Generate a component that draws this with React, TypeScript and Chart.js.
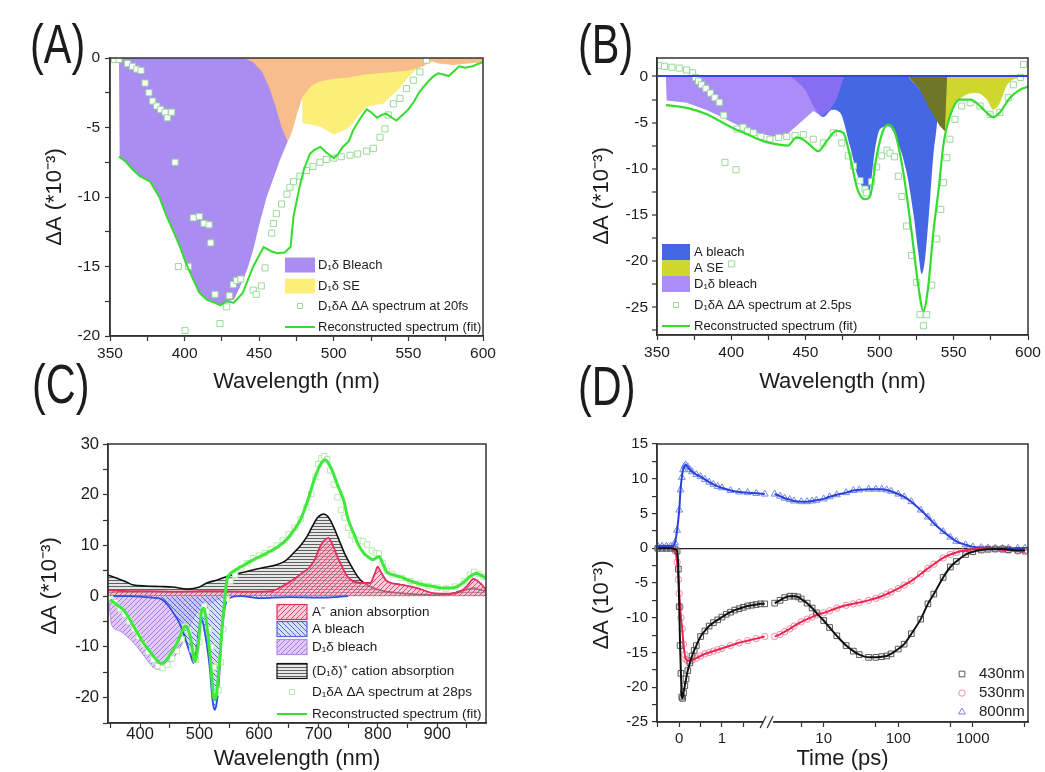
import React, { useEffect, useRef } from 'react';
import { Chart, registerables, LinearScale } from 'chart.js';

Chart.register(...registerables);

const FONT = '"Liberation Sans", Arial, Helvetica, sans-serif';
Chart.defaults.font.family = FONT;

// ---------------- Panel A data ----------------
const A_X_TICKS = [350, 375, 400, 425, 450, 475, 500, 525, 550, 575, 600];
const A_Y_TICKS = [-20, -17.5, -15, -12.5, -10, -7.5, -5, -2.5, 0];
const A_FIT_X = [356,360,365,370,377,383,388,393,397,401,406,410,415,420,424,428,433,439,446,453,458,462,467,471,473,477,480,484,487,491,495,500,503,506,510,513,518,522,525,529,532,535,539,542,546,550,554,557,560,564,567,570,574,577,580,584,588,593,596,600];
const A_FIT_Y = [-7.1,-7.4,-8.0,-8.5,-8.9,-10.0,-11.4,-12.6,-13.6,-14.8,-16.0,-16.9,-17.4,-17.6,-17.8,-17.5,-17.6,-16.9,-15.0,-13.6,-13.9,-14.05,-14.0,-13.6,-11.4,-9.3,-8.0,-6.9,-6.6,-6.4,-6.8,-7.2,-6.9,-6.4,-6.0,-5.2,-4.3,-3.7,-3.9,-4.3,-4.1,-4.0,-4.3,-4.5,-4.1,-3.7,-3.1,-2.5,-2.1,-1.6,-1.3,-1.1,-1.2,-1.3,-1.0,-0.6,-0.7,-0.6,-0.45,-0.3];
const A_BLEACH_X = [356,356.5,360,365,370,377,383,388,393,397,401,406,410,415,420,424,428,433,437,442,446,450,455,460,464,468,471,474,476];
const A_BLEACH_Y = [0,-7.1,-7.4,-8.0,-8.5,-8.9,-10.0,-11.4,-12.6,-13.6,-14.8,-16.0,-16.9,-17.4,-17.6,-17.8,-17.5,-17.4,-16.5,-15.2,-13.8,-12.0,-10.0,-8.5,-7.3,-6.3,-5.5,-3.0,0];
const A_SE_X = [478.5,479,485,491,495,500,505,511,516,522,527,533,538,544,549,555,561,567,572];
const A_SE_Y = [0,-4.7,-4.8,-4.95,-5.2,-5.5,-5.3,-4.95,-4.2,-3.5,-3.4,-3.3,-2.8,-2.2,-1.5,-0.86,-0.5,-0.26,0];
const A_ORANGE_X = [440,446,452,457,461,465,469,472,476,479,485,490,500,510,520,530,540,550,560,565,570,580,590,600];
const A_ORANGE_Y = [0,-0.3,-1.0,-2.2,-3.5,-5.0,-6.0,-5.3,-3.8,-2.8,-2.0,-1.7,-1.5,-1.4,-1.2,-1.1,-1.0,-0.9,-0.6,-0.2,-0.4,-0.5,-0.4,-0.3];
const A_DATA_X = [353,356,361.8,365,367.9,370.8,373.5,376.1,378.6,381.3,384,386.9,388.4,391.3,393.6,395.8,400.3,402.5,405.8,409.9,413,416.4,417.5,420.4,423.7,428.2,430,432.6,434.9,437.6,446,448,451.4,453.9,458.4,459.5,461.5,465,468.6,470.6,473,477.3,481.7,486,490.7,495,500,505,510.9,516,522,526.5,531,534.3,536.5,539.9,544.4,548.8,553.3,557.7,562.2];
const A_DATA_Y = [-0.1,-0.1,-0.4,-0.6,-0.8,-0.9,-1.8,-2.5,-3.1,-3.45,-3.7,-3.9,-4.3,-3.9,-7.5,-15.0,-19.6,-15.0,-11.5,-11.4,-11.9,-12.0,-13.3,-17.0,-19.1,-17.9,-17.1,-16.3,-16.0,-15.9,-16.7,-17.0,-16.4,-15.1,-12.6,-11.9,-11.2,-10.5,-9.8,-9.3,-8.9,-8.5,-8.1,-7.8,-7.5,-7.3,-7.2,-7.1,-7.0,-6.9,-6.7,-6.5,-5.7,-5.1,-4.1,-3.3,-2.9,-2.2,-1.6,-1.0,-0.15];

// ---------------- Panel B data ----------------
const B_X_TICKS = [350, 375, 400, 425, 450, 475, 500, 525, 550, 575, 600];
const B_Y_TICKS = [-27.5, -25, -22.5, -20, -17.5, -15, -12.5, -10, -7.5, -5, -2.5, 0];
const B_FIT_X = [356,370,383.5,392,401.4,410,421.6,432.9,438,444.1,448,453,458.7,464.3,471,475.6,480,484.5,487,490.2,493.5,498,502.5,505.9,510.4,516,521.6,526.1,529.5,532.8,536.2,540,543,547.4,554.2,561,567.7,572,576.6,581,587.9,595,600];
const B_FIT_Y = [-3.1,-3.4,-4.1,-4.8,-5.6,-6.2,-7.0,-7.4,-7.5,-6.6,-6.8,-7.4,-8.1,-7.0,-5.9,-6.1,-8.6,-11.9,-12.9,-13.3,-13.0,-8.6,-5.8,-5.2,-6.1,-10.4,-16.9,-22.7,-25.4,-22.7,-16.9,-11.9,-7.4,-4.3,-2.5,-2.5,-3.2,-3.9,-4.4,-3.9,-2.3,-1.4,-1.1];
const B_ABLEACH_X = [440,450,456,462,468,473.3,480,484.5,489,491.3,493.5,496.9,500.3,505.9,511.5,518.2,522.7,526.1,528.3,530.6,534,536.2,538.5,540,540.7,543];
const B_ABLEACH_Y = [0,-1.5,-3.4,-4.4,-3.6,-3.9,-7.5,-10.4,-12.2,-12.8,-12.2,-7.9,-5.7,-5.4,-6.8,-10.4,-14.75,-19.1,-21.4,-19.8,-13.3,-8.6,-5.4,-2.5,-0.7,0];
const B_D1_X = [356,356.5,370,383,392.5,401,410.4,420,428.4,437.4,446.4,455.3,461,466.6,471,476];
const B_D1_Y = [0,-2.6,-2.85,-3.6,-4.3,-5.0,-5.7,-6.2,-6.5,-6.3,-5.0,-3.75,-4.3,-3.6,-2.5,0];
const B_SE_X = [519,530,540,544,547.4,551.9,558.7,565.4,572.2,576.6,581.1,585.6,592.4,597];
const B_SE_Y = [0,-2.0,-4.8,-5.9,-4.3,-2.85,-1.95,-1.8,-2.5,-3.6,-2.85,-1.0,-0.2,0];
const B_OLIVE_X = [519.4,527.2,534,540.7,544,545.5];
const B_OLIVE_Y = [0,-1.4,-3.6,-5.4,-5.9,0];
const B_DATA_X = [351,355,360,365,370,374,376,378,380,383,386,389,392,395,395.8,400.3,403.2,404,408,411,414.9,420,426.1,432,437.4,443,448.6,455.3,462,468.8,474.5,478.9,482.3,486.8,490.2,491.3,494.7,498,501.4,505,507,510,512.6,515,518.2,521.6,525,527.2,529.5,531.7,535.1,538.5,541.2,543,545.3,547.4,550.8,555.3,561,567.7,574.4,581,586.7,590.1,595,597];
const B_DATA_Y = [1.2,1.1,1.0,0.9,0.7,0.4,-0.1,-0.5,-0.9,-1.3,-1.8,-2.3,-2.8,-4.2,-9.3,-20.3,-10.1,-5.7,-5.5,-5.9,-6.1,-6.5,-6.8,-6.6,-6.5,-6.4,-6.3,-6.8,-7.2,-6.1,-7.2,-8.6,-9.7,-11.3,-12.2,-12.6,-11.4,-9.8,-8.6,-8.0,-8.3,-8.7,-10.8,-13.0,-16.2,-19.4,-22.3,-25.8,-27.0,-25.8,-22.6,-17.6,-14.4,-11.5,-8.8,-6.8,-4.65,-3.2,-2.85,-3.2,-4.1,-3.9,-2.3,-0.9,-0.1,1.3];

// ---------------- Panel C data ----------------
const C_X_TICKS = [350, 400, 450, 500, 550, 600, 650, 700, 750, 800, 850, 900, 950];
const C_Y_TICKS = [-25, -20, -15, -10, -5, 0, 5, 10, 15, 20, 25, 30];
const C_CATION_X = [346,360,375,389,410,434,455,479,500,512,530,546,570,591,610,630,645,658,670,681,690,698,704,709,715,720,728,737,745,754,762,770,780,793,810,838,860,880,894,910,925,939,950,961,971,982];
const C_CATION_Y = [4.2,3.6,2.9,2.2,2.0,1.9,1.8,1.4,1.8,2.6,3.2,3.9,4.6,5.2,5.7,6.2,7.0,8.5,10.0,11.8,13.8,15.4,16.0,16.2,15.8,15.0,13.0,10.4,8.2,6.2,4.6,3.3,2.4,1.6,1.0,0.6,0.4,0.3,0.2,0.3,0.5,1.0,1.3,1.6,1.3,1.0];
const C_ANION_X = [346,380,420,460,500,540,580,620,640,658,672,686,695,703,710,717,725,732,740,747,754,770,787,795,800,804,815,838,866,894,920,940,950,961,972,982];
const C_ANION_Y = [1.2,1.0,1.0,0.9,1.0,1.0,0.9,1.0,2.0,3.3,4.5,5.8,7.5,9.8,11.0,11.5,9.8,7.8,5.8,4.2,3.3,2.6,2.6,4.5,5.8,5.0,3.0,2.3,1.6,0.6,0.5,1.0,2.0,3.4,2.6,1.3];
const C_ABLEACH_X = [346,380,420,434,445,456,465,473,479,484,490,495,500,504,509,514,518,521,523.4,526,529,532,535,537.5,543,552,570,600,650,700,750];
const C_ABLEACH_Y = [0,0,-0.3,-0.5,-1.5,-3.3,-5.0,-7.3,-9.5,-11.2,-13.2,-9.9,-6.0,-4.6,-7.3,-11.0,-15.1,-19.5,-21.7,-22.4,-21.0,-17.8,-12.0,-7.3,-2.0,-0.3,0,-0.4,-0.2,-0.3,0];
const C_D1_X = [346,347,352,365,377.6,394.4,411.2,420,428,436,444.9,453,461.8,470,478.6,487,495.4,503,512,520,529,537,546];
const C_D1_Y = [0,-0.6,-5.6,-6.8,-7.9,-9.9,-12.5,-13.8,-14.4,-14.4,-13.8,-12.8,-11.2,-9.5,-7.3,-5.0,-3.3,-2.6,-2.0,-1.3,-0.7,-0.3,0];
const C_FIT_X = [349.5,360,372,380,388.8,397,405.6,414,422.4,428,433.7,439,444.9,450,456.1,462,467.3,471,475.8,480,484.2,488,492.6,495.5,498.2,501,503.8,506.5,509.4,513,517.8,520.5,523.4,526,529.5,533.5,536.5,539.2,542.5,546,551,557,570,590.8,613.3,630,647,658,669.4,678,686,693,700.2,706,711.4,716,722.7,732,742.3,750,759,767,776,785,792,798,802,808,815,826,837.7,855,871.4,882,893.8,907,921.9,935,950,955,961,966,972,980.8];
const C_FIT_Y = [-0.65,-1.6,-2.7,-4.0,-5.9,-7.5,-9.2,-10.5,-11.8,-12.6,-13.2,-13.2,-12.5,-11.6,-10.5,-9.3,-7.9,-6.8,-5.9,-6.4,-7.9,-10.5,-12.9,-11.5,-9.3,-5.5,-2.7,-2.4,-3.3,-6.5,-11.8,-16.0,-19.7,-20.4,-18.5,-13.2,-8.5,-4.6,-0.5,3.2,4.3,4.9,5.8,7.2,8.5,9.6,11.2,12.9,15.0,17.5,20.3,23.0,25.2,26.4,26.9,26.4,24.9,22.0,19.0,15.2,12.5,10.2,8.5,7.6,7.2,7.6,7.8,6.5,4.8,4.2,3.8,3.0,2.4,2.1,1.9,1.6,1.6,2.0,3.3,3.9,4.3,4.5,4.2,3.6];
const C_DATA_X = [350,358,366,374,382,390,398,406,414,422,430,438,446,454,462,470,476,482,488,494,500,504,508,512,516,520,524,528,532,536,540,546,552,560,570,580,590,600,610,620,630,640,650,660,670,680,688,695,700,705,710,715,720,726,732,738,744,750,756,762,768,775,782,790,797,802,808,815,825,840,855,870,885,900,915,930,945,955,962,970,978];
const C_DATA_Y = [-0.5,-1.2,-2.5,-3.6,-5.0,-6.5,-8.0,-9.5,-11.0,-12.5,-13.8,-14.2,-13.5,-12.3,-10.8,-8.5,-6.0,-7.0,-10.5,-12.5,-9.0,-3.5,-2.0,-3.0,-6.5,-10.0,-14.0,-19.0,-18.5,-13.0,-6.5,-0.5,3.0,4.2,5.5,6.5,7.5,8.0,8.5,9.2,10.0,11.0,12.2,13.5,15.2,17.5,20.2,23.5,26.0,27.2,27.6,27.0,24.8,22.0,19.5,17.0,15.5,13.5,12.0,11.2,11.0,10.8,10.2,9.0,8.5,8.4,6.5,5.0,4.3,3.6,3.0,2.5,2.0,1.7,1.5,1.9,3.0,4.2,4.8,4.4,3.8];

// ---------------- Panel D data (time in ps) ----------------
const D_X_TICKS = [-0.5, 0, 0.5, 1, 1.5, 5, 10, 50, 100, 500, 1000, 5000];
const D_X_LABELS = [0, 1, 10, 100, 1000];
const D_Y_TICKS = [-25,-22.5,-20,-17.5,-15,-12.5,-10,-7.5,-5,-2.5,0,2.5,5,7.5,10,12.5,15];
const D430_T_L = [-0.5,-0.4,-0.3,-0.2,-0.1,-0.05,-0.02,0,0.02,0.04,0.06,0.08,0.1,0.13,0.16,0.2,0.25,0.3,0.35,0.4,0.5,0.6,0.7,0.8,0.9,1.0,1.1,1.2,1.3,1.4,1.5,1.6,1.7,1.8,1.9,2.0];
const D430_Y_L = [0,0,0,0,-0.1,-0.4,-3.0,-8.4,-14.0,-18.0,-21.4,-21.6,-20.8,-19.8,-18.8,-17.6,-16.5,-15.5,-14.7,-14.0,-12.7,-11.9,-11.2,-10.7,-10.3,-9.9,-9.5,-9.2,-8.9,-8.7,-8.5,-8.3,-8.2,-8.1,-8.0,-8.0];
const D430_T_R = [2.2,2.6,3,3.5,4,4.5,5,6,7,8,10,12,15,20,25,30,40,50,60,70,80,100,120,150,200,250,300,400,500,600,800,1000,1300,1600,2000,2500,3000,4000,5000];
const D430_Y_R = [-7.9,-7.5,-7.1,-6.9,-6.9,-7.0,-7.3,-7.9,-8.6,-9.3,-10.4,-11.4,-12.6,-14.0,-14.8,-15.3,-15.7,-15.7,-15.6,-15.5,-15.2,-14.5,-13.8,-12.3,-10.2,-8.0,-6.6,-4.2,-2.7,-1.9,-0.9,-0.5,-0.25,-0.15,-0.1,-0.1,-0.2,-0.3,-0.3];
const D530_T_L = [-0.5,-0.4,-0.3,-0.2,-0.1,-0.05,-0.02,0,0.02,0.04,0.07,0.1,0.13,0.16,0.2,0.25,0.3,0.4,0.5,0.6,0.7,0.8,0.9,1.0,1.2,1.4,1.6,1.8,2.0];
const D530_Y_L = [0,0,0,0,-0.4,-2.0,-4.5,-6.5,-8.5,-10.0,-11.6,-13.8,-15.3,-16.0,-16.2,-16.2,-16.1,-15.8,-15.5,-15.2,-15.0,-14.8,-14.6,-14.4,-14.0,-13.6,-13.3,-13.0,-12.7];
const D530_T_R = [2.2,2.6,3,3.5,4,5,6,7,8,10,12,15,20,25,30,40,50,60,70,80,100,120,150,200,250,300,400,500,600,800,1000,1300,1600,2000,2500,3000,4000,5000];
const D530_Y_R = [-12.7,-12.4,-12.0,-11.6,-11.2,-10.6,-10.2,-9.9,-9.6,-9.3,-9.0,-8.6,-8.2,-8.0,-7.8,-7.5,-7.2,-6.9,-6.6,-6.3,-5.8,-5.3,-4.7,-3.7,-2.9,-2.3,-1.4,-0.9,-0.6,-0.3,-0.15,0,0,-0.1,-0.2,-0.3,-0.4,-0.5];
const D800_T_L = [-0.5,-0.4,-0.3,-0.2,-0.15,-0.1,-0.05,0,0.03,0.06,0.09,0.12,0.15,0.2,0.25,0.3,0.4,0.5,0.6,0.7,0.8,0.9,1.0,1.2,1.4,1.6,1.8,2.0];
const D800_Y_L = [0.3,0.3,0.3,0.3,0.3,0.8,2.6,5.5,8.4,10.2,11.3,11.8,12.0,11.7,11.3,11.0,10.6,10.3,9.9,9.5,9.2,8.9,8.7,8.3,8.1,8.0,7.9,7.8];
const D800_T_R = [2.2,2.6,3,3.5,4,5,6,7,8,10,12,15,20,25,30,40,50,60,70,80,100,120,150,200,250,300,400,500,600,800,1000,1300,1600,2000,2500,3000,4000,5000];
const D800_Y_R = [7.8,7.5,7.2,7.0,6.8,6.7,6.7,6.8,6.9,7.1,7.4,7.7,8.0,8.3,8.4,8.5,8.5,8.5,8.4,8.2,7.8,7.4,6.7,5.5,4.5,3.6,2.4,1.6,1.0,0.5,0.2,0.1,0.05,0,0,0,0,0];

// ---------------- broken time axis (linear -0.5..2 ps, then log) ----------------
const BREAK_T = 2;
const BREAK_GAP = 0.16;
const DECADE = 1.744;
const D_T_MIN = -0.52;
const D_T_MAX = 5500;
function tToU(t: number) {
  return t <= BREAK_T ? t : BREAK_T + BREAK_GAP + (Math.log10(t) - Math.log10(BREAK_T)) * DECADE;
}
class BrokenTimeScale extends (LinearScale as any) {
  static id = 'brokentime';
  determineDataLimits() {
    (this as any).min = tToU(D_T_MIN);
    (this as any).max = tToU(D_T_MAX);
  }
  getPixelForValue(value: any) {
    if (value === null || value === undefined || isNaN(value)) return NaN;
    return super.getPixelForValue(tToU(Number(value)));
  }
}
Chart.register(BrokenTimeScale as any);

// ---------------- helpers ----------------
type Box = { x: number; y: number; w: number; h: number };
type Plot = { l: number; t: number; r: number; b: number };

const pts = (xs: number[], ys: (number | null)[]) => xs.map((x, i) => ({ x, y: ys[i] }));

const GREEN = '#34dc2e';
const SQ = '#9ad99a';
const AXIS = '#333';
const TXT = '#1c1c1c';

function hatch(bg: string, fg: string, kind: 'slash' | 'back' | 'horiz', step: number, lw = 1) {
  const c = document.createElement('canvas');
  c.width = step;
  c.height = step;
  const g = c.getContext('2d')!;
  g.fillStyle = bg;
  g.fillRect(0, 0, step, step);
  g.strokeStyle = fg;
  g.lineWidth = lw;
  g.beginPath();
  if (kind === 'horiz') {
    g.moveTo(0, step - 0.5);
    g.lineTo(step, step - 0.5);
  } else if (kind === 'slash') {
    g.moveTo(-1, step + 1);
    g.lineTo(step + 1, -1);
  } else {
    g.moveTo(-1, -1);
    g.lineTo(step + 1, step + 1);
  }
  g.stroke();
  return g.createPattern(c, 'repeat') as CanvasPattern;
}

function scale(o: {
  horizontal: boolean; type?: string; min?: number; max?: number; ticks: number[];
  label: (v: number) => string; size: number; fit: number; pad: number;
  zero?: { color: string; width: number; z: number };
}) {
  const z = o.zero ? o.zero.z : -1;
  return {
    type: o.type ?? 'linear',
    position: o.horizontal ? 'bottom' : 'left',
    min: o.min,
    max: o.max,
    bounds: 'data',
    afterBuildTicks: (s: any) => { s.ticks = o.ticks.map((v) => ({ value: v })); },
    afterFit: (s: any) => { if (o.horizontal) s.height = o.fit; else s.width = o.fit; },
    ticks: {
      autoSkip: false, maxRotation: 0, minRotation: 0, padding: o.pad, color: TXT,
      font: { size: o.size, family: FONT },
      callback: (v: any) => o.label(Number(v)),
    },
    grid: {
      drawOnChartArea: !!o.zero,
      z,
      color: (c: any) => (o.zero && c.tick && Math.abs(c.tick.value) < 1e-9 ? o.zero.color : 'rgba(0,0,0,0)'),
      lineWidth: o.zero ? o.zero.width : 1,
      tickColor: AXIS, tickLength: 5, tickWidth: 1.2,
    },
    border: { display: true, color: AXIS, width: 1.5, z: Math.max(z, 0) },
    title: { display: false },
  };
}

function opts(box: Box, plot: Plot, x: any, y: any) {
  return {
    responsive: false, maintainAspectRatio: false, animation: false, devicePixelRatio: 1, events: [],
    layout: { padding: { left: 0, top: plot.t - box.y, right: box.x + box.w - plot.r, bottom: 0 } },
    plugins: { legend: { display: false }, tooltip: { enabled: false }, title: { display: false } },
    scales: { x, y },
  };
}

const framePlugin = {
  id: 'frame',
  afterDatasetsDraw(chart: any) {
    const { ctx, chartArea: a } = chart;
    ctx.save();
    ctx.strokeStyle = AXIS;
    ctx.lineWidth = 1.5;
    ctx.strokeRect(a.left, a.top, a.right - a.left, a.bottom - a.top);
    ctx.restore();
  },
};

type TextItem = { text: string; x: number; y: number; size: number; rotate?: boolean; align?: CanvasTextAlign; baseline?: CanvasTextBaseline; sx?: number; sy?: number };
type LegendRow = { label: string; kind: 'box' | 'line' | 'point'; fill?: any; stroke?: string; color?: string; point?: string; r?: number; y: number };
type LegendSpec = { swatchX: number; swatchW: number; boxH: number; textX: number; size: number; rows: LegendRow[] };

function drawMarker(ctx: CanvasRenderingContext2D, style: string, x: number, y: number, r: number, stroke: string, fill: string) {
  ctx.save();
  ctx.strokeStyle = stroke;
  ctx.fillStyle = fill;
  ctx.lineWidth = 1;
  ctx.beginPath();
  if (style === 'rect') {
    const s = r * Math.SQRT1_2;
    ctx.rect(x - s, y - s, 2 * s, 2 * s);
  } else if (style === 'triangle') {
    ctx.moveTo(x, y - r);
    ctx.lineTo(x + 0.866 * r, y + 0.5 * r);
    ctx.lineTo(x - 0.866 * r, y + 0.5 * r);
    ctx.closePath();
  } else {
    ctx.arc(x, y, r, 0, Math.PI * 2);
  }
  ctx.fill();
  ctx.stroke();
  ctx.restore();
}

function decor(box: Box, items: TextItem[], legend?: LegendSpec) {
  return {
    id: 'decor',
    afterDraw(chart: any) {
      const ctx: CanvasRenderingContext2D = chart.ctx;
      ctx.save();
      for (const it of items) {
        ctx.save();
        ctx.translate(it.x - box.x, it.y - box.y);
        if (it.rotate) ctx.rotate(-Math.PI / 2);
        if (it.sx || it.sy) ctx.scale(it.sx ?? 1, it.sy ?? 1);
        ctx.fillStyle = TXT;
        ctx.font = `${it.size}px ${FONT}`;
        ctx.textAlign = it.align ?? 'center';
        ctx.textBaseline = it.baseline ?? 'middle';
        ctx.fillText(it.text, 0, 0);
        ctx.restore();
      }
      if (legend) {
        for (const r of legend.rows) {
          const y = r.y - box.y;
          const x0 = legend.swatchX - box.x;
          if (r.kind === 'box') {
            ctx.fillStyle = r.fill;
            ctx.fillRect(x0, y - legend.boxH / 2, legend.swatchW, legend.boxH);
            if (r.stroke) {
              ctx.strokeStyle = r.stroke;
              ctx.lineWidth = 1.2;
              ctx.strokeRect(x0, y - legend.boxH / 2, legend.swatchW, legend.boxH);
            }
          } else if (r.kind === 'line') {
            ctx.strokeStyle = r.color!;
            ctx.lineWidth = 2;
            ctx.beginPath();
            ctx.moveTo(x0, y);
            ctx.lineTo(x0 + legend.swatchW, y);
            ctx.stroke();
          } else {
            drawMarker(ctx, r.point ?? 'rect', x0 + legend.swatchW / 2, y, r.r ?? 4, r.color ?? SQ, r.fill ?? '#fff');
          }
          ctx.fillStyle = TXT;
          ctx.font = `${legend.size}px ${FONT}`;
          ctx.textAlign = 'left';
          ctx.textBaseline = 'middle';
          ctx.fillText(r.label, legend.textX - box.x, y);
        }
      }
      ctx.restore();
    },
  };
}

const fillDS = (xs: number[], ys: number[], color: any, order: number, extra: any = {}) => ({
  data: pts(xs, ys), fill: 'origin', backgroundColor: color, borderColor: 'rgba(0,0,0,0)', borderWidth: 0,
  pointRadius: 0, order, ...extra,
});

const squaresDS = (xs: number[], ys: number[], order: number, r = 4.3, color = SQ) => ({
  data: pts(xs, ys), showLine: false, pointStyle: 'rect', pointRadius: r, pointBackgroundColor: '#fff',
  pointBorderColor: color, pointBorderWidth: 1, order,
});

const fiveLabel = (v: number) => (Math.abs(v % 5) < 1e-9 ? String(v) : '');
const fiftyLabel = (v: number) => (Math.abs(v % 50) < 1e-9 ? String(v) : '');

// ---------------- layout ----------------
const BOX_A: Box = { x: 0, y: 0, w: 522, h: 400 };
const PLOT_A: Plot = { l: 110, t: 58, r: 483, b: 336 };
const BOX_B: Box = { x: 522, y: 0, w: 523, h: 400 };
const PLOT_B: Plot = { l: 657, t: 58, r: 1028, b: 335 };
const BOX_C: Box = { x: 0, y: 350, w: 522, h: 422 };
const PLOT_C: Plot = { l: 108, t: 444, r: 486, b: 723 };
const BOX_D: Box = { x: 522, y: 350, w: 523, h: 422 };
const PLOT_D: Plot = { l: 657, t: 444, r: 1028, b: 722 };

const xFit = (b: Box, p: Plot) => b.y + b.h - p.b;
const yFit = (b: Box, p: Plot) => p.l - b.x;

function makeA() {
  const box = BOX_A, plot = PLOT_A;
  return {
    type: 'line',
    data: {
      datasets: [
        { data: pts(A_FIT_X, A_FIT_Y), borderColor: GREEN, borderWidth: 2, pointRadius: 0, fill: false, order: 0 },
        squaresDS(A_DATA_X, A_DATA_Y, 1),
        fillDS(A_ORANGE_X, A_ORANGE_Y, '#f7bd8d', 5),
        fillDS(A_SE_X, A_SE_Y, '#fbef7a', 6),
        fillDS(A_BLEACH_X, A_BLEACH_Y, '#a98df0', 7),
      ],
    },
    options: opts(box, plot,
      scale({ horizontal: true, min: 350, max: 600, ticks: A_X_TICKS, label: fiftyLabel, size: 15.5, fit: xFit(box, plot), pad: 3 }),
      scale({ horizontal: false, min: -20, max: 0, ticks: A_Y_TICKS, label: fiveLabel, size: 15.5, fit: yFit(box, plot), pad: 5 })),
    plugins: [framePlugin, decor(box, [
      { text: '(A)', x: 30, y: 63, size: 46, align: 'left', baseline: 'alphabetic', sx: 0.9, sy: 1.2 },
      { text: 'ΔA (*10⁻³)', x: 55, y: 197, size: 22, rotate: true },
      { text: 'Wavelength (nm)', x: 296.5, y: 388, size: 22, baseline: 'alphabetic' },
    ], {
      swatchX: 285, swatchW: 30, boxH: 15, textX: 318, size: 13,
      rows: [
        { label: 'D₁δ Bleach', kind: 'box', fill: '#a98df0', y: 265 },
        { label: 'D₁δ SE', kind: 'box', fill: '#fbef7a', y: 286 },
        { label: 'D₁δA ΔA spectrum at 20fs', kind: 'point', point: 'rect', r: 3.5, y: 306 },
        { label: 'Reconstructed spectrum (fit)', kind: 'line', color: GREEN, y: 327 },
      ],
    })],
  };
}

function makeB() {
  const box = BOX_B, plot = PLOT_B;
  const mono = { cubicInterpolationMode: 'monotone' };
  const purple = 'rgba(150,112,245,0.8)';
  return {
    type: 'line',
    data: {
      datasets: [
        { data: pts(B_FIT_X, B_FIT_Y), borderColor: GREEN, borderWidth: 2.2, pointRadius: 0, fill: false, order: 0, cubicInterpolationMode: 'monotone' },
        squaresDS(B_DATA_X, B_DATA_Y, 1),
        fillDS(B_OLIVE_X, B_OLIVE_Y, '#6f7628', 3),
        fillDS(B_SE_X, B_SE_Y, '#cdd72e', 4, mono),
        fillDS(B_D1_X, B_D1_Y, purple, 5),
        fillDS(B_ABLEACH_X, B_ABLEACH_Y, '#4667e4', 6, mono),
      ],
    },
    options: opts(box, plot,
      scale({ horizontal: true, min: 350, max: 600, ticks: B_X_TICKS, label: fiftyLabel, size: 15.5, fit: xFit(box, plot), pad: 3 }),
      scale({ horizontal: false, min: -28, max: 2, ticks: B_Y_TICKS, label: fiveLabel, size: 15.5, fit: yFit(box, plot), pad: 4, zero: { color: '#3346dc', width: 2, z: 1 } })),
    plugins: [framePlugin, decor(box, [
      { text: '(B)', x: 578, y: 63, size: 46, align: 'left', baseline: 'alphabetic', sx: 0.9, sy: 1.2 },
      { text: 'ΔA (*10⁻³)', x: 602, y: 196, size: 22, rotate: true },
      { text: 'Wavelength (nm)', x: 842.5, y: 388, size: 22, baseline: 'alphabetic' },
    ], {
      swatchX: 662, swatchW: 28, boxH: 16, textX: 694, size: 13,
      rows: [
        { label: 'A bleach', kind: 'box', fill: '#4667e4', y: 252 },
        { label: 'A SE', kind: 'box', fill: '#cdd72e', y: 268 },
        { label: 'D₁δ bleach', kind: 'box', fill: purple, y: 284 },
        { label: 'D₁δA ΔA spectrum at 2.5ps', kind: 'point', point: 'rect', r: 3.5, y: 305 },
        { label: 'Reconstructed spectrum (fit)', kind: 'line', color: GREEN, y: 326 },
      ],
    })],
  };
}

function makeC() {
  const box = BOX_C, plot = PLOT_C;
  const pink = hatch('rgba(246,170,192,0.6)', 'rgba(225,50,100,0.85)', 'slash', 5);
  const blue = hatch('rgba(185,200,245,0.55)', 'rgba(55,85,215,0.85)', 'back', 5);
  const purple = hatch('rgba(205,170,245,0.6)', 'rgba(160,100,230,0.85)', 'slash', 5);
  const gray = hatch('rgba(205,205,205,0.5)', 'rgba(40,40,40,0.7)', 'horiz', 3);
  const mono = { cubicInterpolationMode: 'monotone' };
  return {
    type: 'line',
    data: {
      datasets: [
        { data: pts(C_FIT_X, C_FIT_Y), borderColor: '#3fe83a', borderWidth: 3, pointRadius: 0, fill: false, order: 0, cubicInterpolationMode: 'monotone' },
        squaresDS(C_DATA_X, C_DATA_Y, 1, 3.8, '#b8e8b2'),
        fillDS(C_ABLEACH_X, C_ABLEACH_Y, blue, 2, { ...mono, borderColor: '#2f4fe0', borderWidth: 1.8 }),
        fillDS(C_ANION_X, C_ANION_Y, pink, 3, { ...mono, borderColor: '#e2305c', borderWidth: 1.8 }),
        fillDS(C_D1_X, C_D1_Y, purple, 4, { ...mono, borderColor: '#b48ae8', borderWidth: 1 }),
        fillDS(C_CATION_X, C_CATION_Y, gray, 5, { ...mono, borderColor: '#111', borderWidth: 1.6 }),
      ],
    },
    options: opts(box, plot,
      scale({ horizontal: true, min: 346, max: 982, ticks: C_X_TICKS, label: (v) => (v % 100 === 0 ? String(v) : ''), size: 16.5, fit: xFit(box, plot), pad: -3 }),
      scale({ horizontal: false, min: -25, max: 30, ticks: C_Y_TICKS, label: (v) => (v % 10 === 0 ? String(v) : ''), size: 16.5, fit: yFit(box, plot), pad: 4 })),
    plugins: [framePlugin, decor(box, [
      { text: '(C)', x: 32, y: 403, size: 46, align: 'left', baseline: 'alphabetic', sx: 0.9, sy: 1.2 },
      { text: 'ΔA (*10⁻³)', x: 50, y: 586, size: 22, rotate: true },
      { text: 'Wavelength (nm)', x: 297, y: 765, size: 22, baseline: 'alphabetic' },
    ], {
      swatchX: 277, swatchW: 30, boxH: 15, textX: 312, size: 13.5,
      rows: [
        { label: 'A⁻ anion absorption', kind: 'box', fill: pink, stroke: '#e2305c', y: 612 },
        { label: 'A bleach', kind: 'box', fill: blue, stroke: '#4a66e0', y: 629 },
        { label: 'D₁δ bleach', kind: 'box', fill: purple, stroke: '#b48ae8', y: 647 },
        { label: '(D₁δ)⁺ cation absorption', kind: 'box', fill: gray, stroke: '#111', y: 671 },
        { label: 'D₁δA ΔA spectrum at 28ps', kind: 'point', point: 'rect', r: 3.5, color: '#b8e8b2', y: 692 },
        { label: 'Reconstructed spectrum (fit)', kind: 'line', color: GREEN, y: 714 },
      ],
    })],
  };
}

function series(tl: number[], yl: number[], tr: number[], yr: number[]) {
  const gapT = (tl[tl.length - 1] + tr[0]) / 2;
  return [...pts(tl, yl), { x: gapT, y: null }, ...pts(tr, yr)];
}

const breakPlugin = {
  id: 'axisBreak',
  afterDraw(chart: any) {
    const xs = chart.scales.x;
    const ctx: CanvasRenderingContext2D = chart.ctx;
    const a = xs.getPixelForValue(BREAK_T);
    const b = xs.getPixelForValue(BREAK_T * 1.000001);
    const cx = (a + b) / 2;
    const yb = chart.chartArea.bottom;
    ctx.save();
    ctx.fillStyle = '#fff';
    ctx.fillRect(cx - 5, yb - 2, 10, 4);
    ctx.strokeStyle = AXIS;
    ctx.lineWidth = 1.3;
    ctx.beginPath();
    ctx.moveTo(cx - 8, yb + 6);
    ctx.lineTo(cx - 2, yb - 6);
    ctx.moveTo(cx - 1, yb + 6);
    ctx.lineTo(cx + 5, yb - 6);
    ctx.stroke();
    ctx.restore();
  },
};

function makeD() {
  const box = BOX_D, plot = PLOT_D;
  const s430 = series(D430_T_L, D430_Y_L, D430_T_R, D430_Y_R);
  const s530 = series(D530_T_L, D530_Y_L, D530_T_R, D530_Y_R);
  const s800 = series(D800_T_L, D800_Y_L, D800_T_R, D800_Y_R);
  const markers = (data: any[], style: string, color: string, r: number, order: number) => ({
    data, showLine: false, pointStyle: style, pointRadius: r, pointBackgroundColor: 'rgba(255,255,255,0)',
    pointBorderColor: color, pointBorderWidth: 1, order,
  });
  const fit = (data: any[], color: string, order: number) => ({
    data, borderColor: color, borderWidth: 2, pointRadius: 0, fill: false, spanGaps: false, order,
    cubicInterpolationMode: 'monotone',
  });
  return {
    type: 'line',
    data: {
      datasets: [
        fit(s430, '#111111', 0),
        fit(s530, '#e8264f', 1),
        fit(s800, '#2b40d8', 2),
        markers(s430, 'rect', '#5a5a5a', 4, 3),
        markers(s530, 'circle', '#f08aa6', 3.2, 4),
        markers(s800, 'triangle', '#7088ee', 4, 5),
      ],
    },
    options: opts(box, plot,
      scale({ horizontal: true, type: 'brokentime', ticks: D_X_TICKS, label: (v) => (D_X_LABELS.includes(v) ? String(v) : ''), size: 15, fit: xFit(box, plot), pad: 3 }),
      scale({ horizontal: false, min: -25, max: 15, ticks: D_Y_TICKS, label: fiveLabel, size: 15, fit: yFit(box, plot), pad: 4, zero: { color: '#222', width: 1.2, z: -1 } })),
    plugins: [framePlugin, breakPlugin, decor(box, [
      { text: '(D)', x: 578, y: 405, size: 46, align: 'left', baseline: 'alphabetic', sx: 0.9, sy: 1.2 },
      { text: 'ΔA (10⁻³)', x: 602, y: 605, size: 22, rotate: true },
      { text: 'Time (ps)', x: 842.5, y: 765, size: 22, baseline: 'alphabetic' },
    ], {
      swatchX: 955, swatchW: 14, boxH: 14, textX: 979, size: 15,
      rows: [
        { label: '430nm', kind: 'point', point: 'rect', r: 4, color: '#5a5a5a', y: 674 },
        { label: '530nm', kind: 'point', point: 'circle', r: 3.2, color: '#f08aa6', y: 693 },
        { label: '800nm', kind: 'point', point: 'triangle', r: 4, color: '#7088ee', y: 712 },
      ],
    })],
  };
}

function ChartPanel({ box, make }: { box: Box; make: () => any }) {
  const ref = useRef<HTMLCanvasElement | null>(null);
  useEffect(() => {
    if (!ref.current) return;
    const chart = new Chart(ref.current, make());
    return () => chart.destroy();
  }, []);
  return (
    <canvas
      ref={ref}
      width={box.w}
      height={box.h}
      style={{ position: 'absolute', left: box.x, top: box.y, width: box.w, height: box.h }}
    />
  );
}

export default function App() {
  return (
    <div style={{ position: 'absolute', left: 0, top: 0, width: 1045, height: 772, background: '#fff', overflow: 'hidden' }}>
      <ChartPanel box={BOX_A} make={makeA} />
      <ChartPanel box={BOX_B} make={makeB} />
      <ChartPanel box={BOX_C} make={makeC} />
      <ChartPanel box={BOX_D} make={makeD} />
    </div>
  );
}
